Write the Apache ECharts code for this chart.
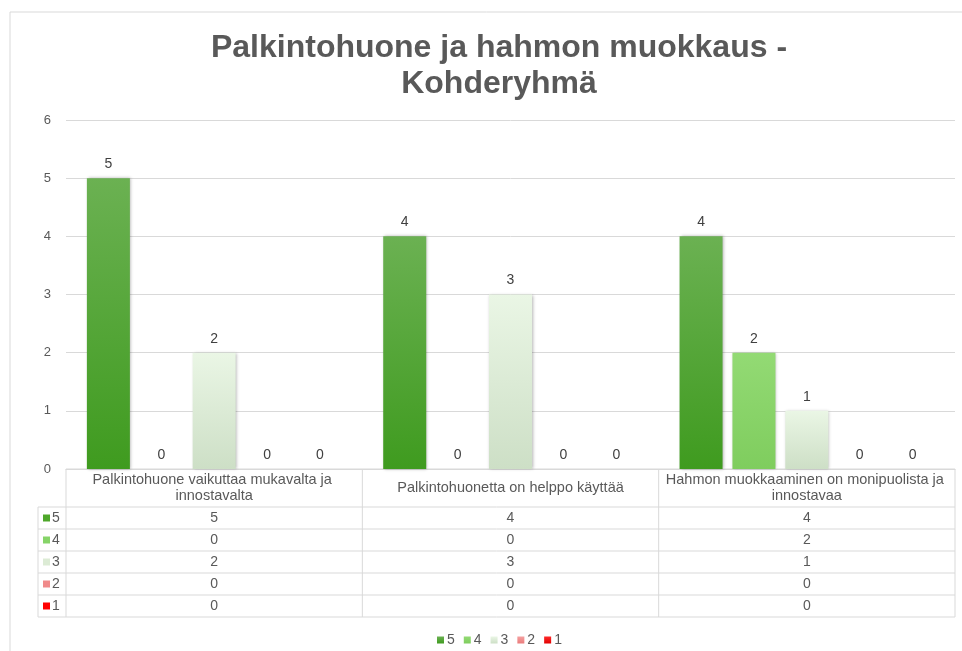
<!DOCTYPE html>
<html>
<head>
<meta charset="utf-8">
<script src="https://cdn.jsdelivr.net/npm/echarts@6/dist/echarts.min.js"></script>
<style>
  html, body { margin: 0; padding: 0; background: #fff; }
  #main { width: 962px; height: 651px; }
</style>
</head>
<body>
<div id="main"></div>
<script>
// data
var categories = [
  'Palkintohuone vaikuttaa mukavalta ja innostavalta',
  'Palkintohuonetta on helppo käyttää',
  'Hahmon muokkaaminen on monipuolista ja innostavaa'
];
var seriesNames = ['5', '4', '3', '2', '1'];
var values5 = [5, 4, 4];
var values4 = [0, 0, 2];
var values3 = [2, 3, 1];
var values2 = [0, 0, 0];
var values1 = [0, 0, 0];
var allValues = [values5, values4, values3, values2, values1];
var yTicks = [0, 1, 2, 3, 4, 5, 6];

var grad = function (top, bottom) {
  return new echarts.graphic.LinearGradient(0, 0, 0, 1, [
    { offset: 0, color: top },
    { offset: 1, color: bottom }
  ]);
};
var legendColors = ['#4ea72a', '#86d468', '#dcebd5', '#f08a8a', '#ff0000'];
var barColors = [
  grad('#6bb152', '#3f9b1f'),
  grad('#93da74', '#7fcd5e'),
  grad('#eaf6e5', '#cddfc6'),
  grad('#f4a0a0', '#ea7b7b'),
  grad('#ff2a2a', '#e00000')
];

var gridLeft = 66, gridRight = 7, gridTop = 120, gridBottom = 182;
var W = 962, H = 651;
var font = 'Liberation Sans';
var textCol = '#595959';

var myChart = echarts.init(document.getElementById('main'));

var series = seriesNames.map(function (name, i) {
  return {
    name: name,
    type: 'bar',
    data: allValues[i],
    barWidth: 43,
    barGap: '23%',
    itemStyle: {
      color: barColors[i],
      shadowBlur: 3,
      shadowColor: 'rgba(0,0,0,0.3)',
      shadowOffsetX: 1,
      shadowOffsetY: 0
    },
    label: {
      show: true,
      position: 'top',
      distance: 7,
      color: '#404040',
      fontSize: 14,
      fontFamily: font
    }
  };
});

var option = {
  animation: false,
  color: legendColors,
  title: {
    text: 'Palkintohuone ja hahmon muokkaus -\nKohderyhmä',
    left: 494,
    textAlign: 'center',
    top: 25,
    textStyle: {
      fontSize: 32,
      fontWeight: 'bold',
      color: textCol,
      fontFamily: font,
      lineHeight: 36
    }
  },
  legend: {
    data: seriesNames,
    left: 432,
    top: 628,
    itemWidth: 7,
    itemHeight: 7,
    itemGap: 9,
    icon: 'rect',
    textStyle: { fontSize: 14, color: textCol, fontFamily: font, padding: [0, 0, 0, -2] }
  },
  grid: { left: gridLeft, right: gridRight, top: gridTop, bottom: gridBottom },
  xAxis: {
    type: 'category',
    data: categories,
    axisLabel: { show: false },
    axisTick: { show: false },
    axisLine: { show: true, lineStyle: { color: '#d9d9d9' } }
  },
  yAxis: {
    type: 'value',
    min: yTicks[0],
    max: yTicks[yTicks.length - 1],
    interval: 1,
    axisLabel: { color: textCol, fontSize: 13, fontFamily: font, margin: 15 },
    splitLine: { lineStyle: { color: '#d9d9d9' } },
    axisLine: { show: false },
    axisTick: { show: false }
  },
  series: series
};
myChart.setOption(option);

// data table under the plot
var tableTop = H - gridBottom;
var headerH = 38, rowH = 22;
var tableLeft = 38, plotRight = W - gridRight;
var catW = (plotRight - gridLeft) / categories.length;
var lineColor = '#d9d9d9';
var els = [];

// outer chart border
els.push({ type: 'rect', shape: { x: 10, y: 12, width: W, height: H }, style: { fill: null, stroke: lineColor, lineWidth: 1 }, silent: true });

var tableBottom = tableTop + headerH + rowH * seriesNames.length;
// horizontal lines
els.push({ type: 'line', shape: { x1: gridLeft, y1: tableTop, x2: plotRight, y2: tableTop }, style: { stroke: lineColor } });
for (var r = 0; r <= seriesNames.length; r++) {
  var y = tableTop + headerH + r * rowH;
  els.push({ type: 'line', shape: { x1: tableLeft, y1: y, x2: plotRight, y2: y }, style: { stroke: lineColor } });
}
// vertical lines
els.push({ type: 'line', shape: { x1: tableLeft, y1: tableTop + headerH, x2: tableLeft, y2: tableBottom }, style: { stroke: lineColor } });
for (var c = 0; c <= categories.length; c++) {
  var x = gridLeft + c * catW;
  els.push({ type: 'line', shape: { x1: x, y1: tableTop, x2: x, y2: tableBottom }, style: { stroke: lineColor } });
}
// header texts
categories.forEach(function (cat, ci) {
  els.push({
    type: 'text',
    x: myChart.convertToPixel({ xAxisIndex: 0 }, cat),
    y: tableTop + headerH / 2,
    style: {
      text: cat, width: catW - 8, overflow: 'break',
      align: 'center', verticalAlign: 'middle',
      fill: textCol, fontSize: 14.5, fontFamily: font, lineHeight: 16
    }
  });
});
// rows
seriesNames.forEach(function (name, si) {
  var cy = tableTop + headerH + si * rowH + rowH / 2;
  els.push({ type: 'rect', shape: { x: 43, y: cy - 3.5, width: 7, height: 7 }, style: { fill: legendColors[si] } });
  els.push({ type: 'text', x: 52, y: cy, style: { text: name, align: 'left', verticalAlign: 'middle', fill: textCol, fontSize: 14, fontFamily: font } });
  allValues[si].forEach(function (v, ci) {
    els.push({
      type: 'text',
      x: myChart.convertToPixel({ xAxisIndex: 0 }, categories[ci]),
      y: cy,
      style: { text: String(v), align: 'center', verticalAlign: 'middle', fill: textCol, fontSize: 14, fontFamily: font }
    });
  });
});

myChart.setOption({ graphic: { elements: els } });
</script>
</body>
</html>
